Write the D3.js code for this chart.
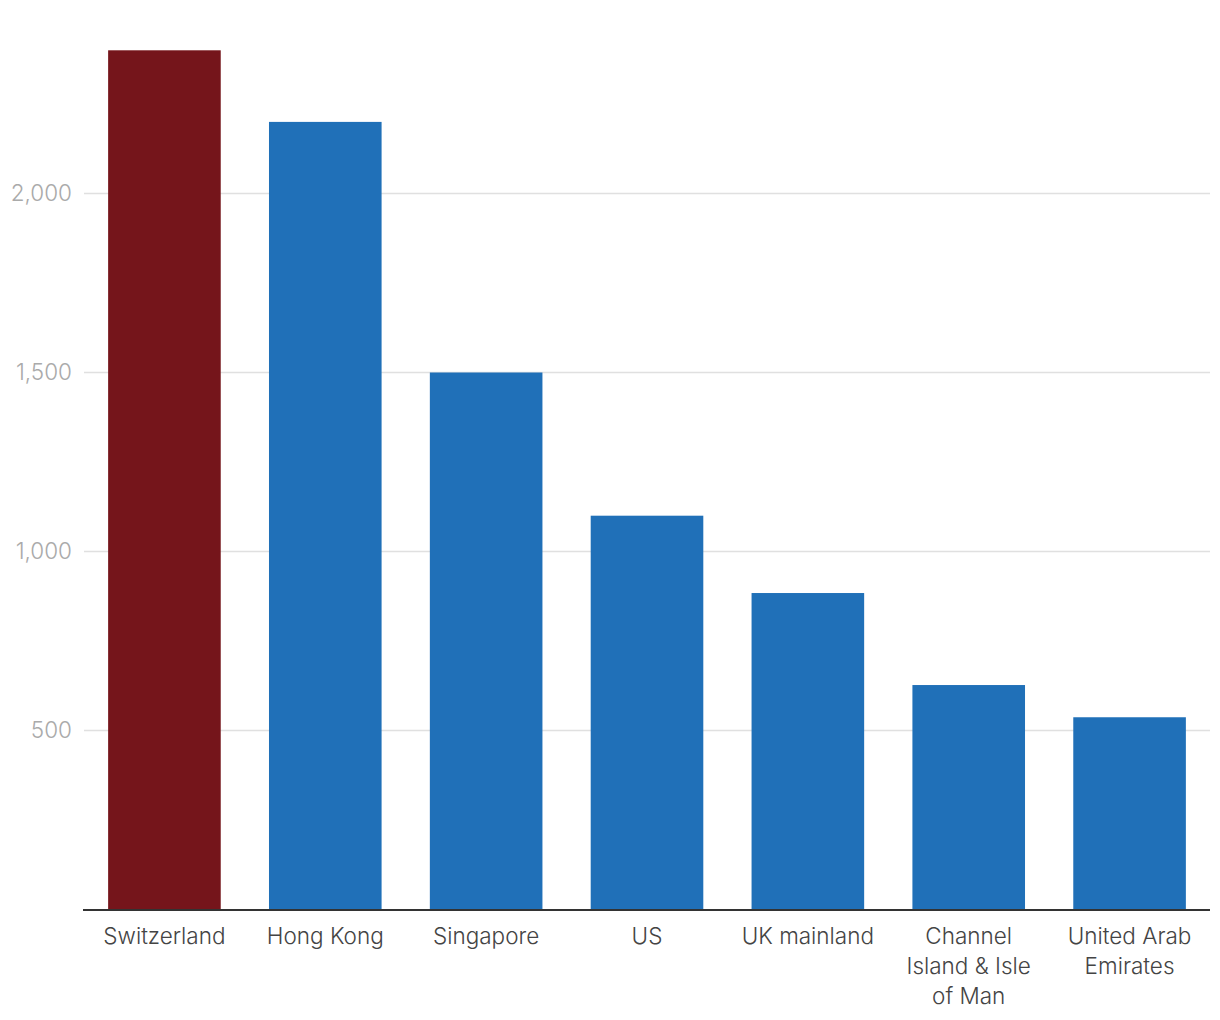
<!DOCTYPE html>
<html><head><meta charset="utf-8">
<script src="https://cdn.jsdelivr.net/npm/d3@7"></script>
<style>body{margin:0;background:#fff;} svg{display:block;font-family:Inter,"Noto Sans",sans-serif;}</style>
</head><body><svg id="c" width="1220" height="1020"></svg>
<script>
const categories = ["Switzerland","Hong Kong","Singapore","US","UK mainland","Channel Island & Isle of Man","United Arab Emirates"];
const labelLines = [["Switzerland"],["Hong Kong"],["Singapore"],["US"],["UK mainland"],["Channel","Island & Isle","of Man"],["United Arab","Emirates"]];
const values = [2400,2200,1500,1100,884,627,537];
const colors = ["#75151b","#2070b8","#2070b8","#2070b8","#2070b8","#2070b8","#2070b8"];
const yTicks = [500,1000,1500,2000];

const svg = d3.select("#c");
const left = 84, right = 1210, y0 = 909.5;
const x = d3.scaleBand().domain(categories).range([left,right]).paddingInner(0.3).paddingOuter(0.15);
const y = d3.scaleLinear().domain([0,2000]).range([y0, 193.5]);

const grid = svg.append("g");
grid.selectAll("line").data(yTicks).join("line")
  .attr("x1",left).attr("x2",right).attr("y1",d=>y(d)).attr("y2",d=>y(d))
  .attr("stroke","#e0e0e0").attr("stroke-width",1.3);
grid.selectAll("text").data(yTicks).join("text")
  .attr("x",72).attr("y",d=>y(d)).attr("dy","0.35em").attr("text-anchor","end")
  .attr("fill","#aaaaaa").attr("font-size",22.5).attr("font-weight",300)
  .text(d=>d3.format(",")(d));

svg.append("g").selectAll("rect").data(categories).join("rect")
  .attr("x",d=>x(d)).attr("width",x.bandwidth())
  .attr("y",(d,i)=>y(values[i])).attr("height",(d,i)=>y0-y(values[i]))
  .attr("fill",(d,i)=>colors[i]);

svg.append("line").attr("x1",83).attr("x2",right).attr("y1",y0+0.5).attr("y2",y0+0.5)
  .attr("stroke","#333").attr("stroke-width",2);

const lab = svg.append("g").selectAll("text").data(categories).join("text")
  .attr("x",d=>x(d)+x.bandwidth()/2).attr("y",944).attr("text-anchor","middle")
  .attr("fill","#444").attr("font-size",22.5).attr("font-weight",300);
lab.each(function(d,i){
  d3.select(this).selectAll("tspan").data(labelLines[i]).join("tspan")
    .attr("x",x(d)+x.bandwidth()/2).attr("dy",(t,j)=>j===0?0:30).text(t=>t);
});
</script></body></html>
